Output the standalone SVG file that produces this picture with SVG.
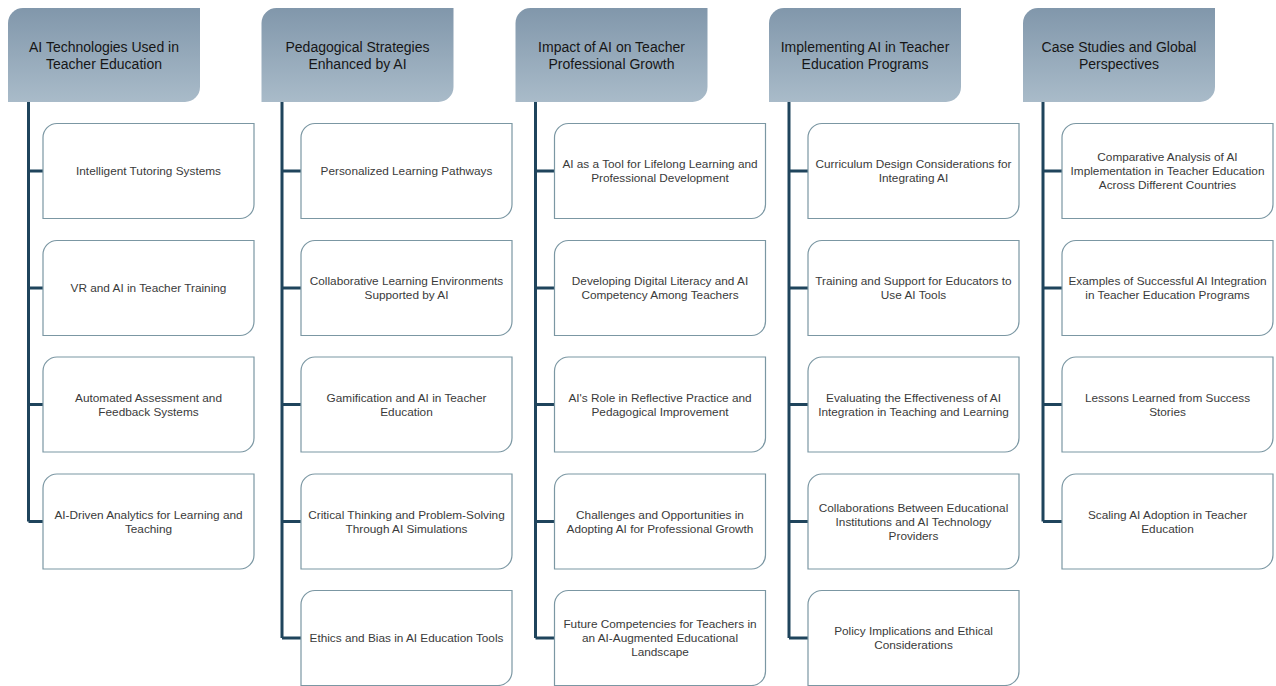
<svg xmlns="http://www.w3.org/2000/svg" width="1276" height="686" viewBox="0 0 1276 686">
<style>
.hdr{fill:url(#hg);}
.box{fill:#ffffff;stroke:#7b97a3;stroke-width:1.2;}
.ht{font-family:"Liberation Sans",Arial,sans-serif;font-size:14px;fill:#161616;text-anchor:middle;}
.bt{font-family:"Liberation Sans",Arial,sans-serif;font-size:11.8px;fill:#3a3a3a;text-anchor:middle;}
.con{stroke:#1f445c;stroke-width:3;fill:none;}
</style>
<defs>
<linearGradient id="hg" x1="0" y1="0" x2="0" y2="1">
<stop offset="0" stop-color="#8197ab"/>
<stop offset="1" stop-color="#a9bbc9"/>
</linearGradient>
</defs>
<rect width="1276" height="686" fill="#ffffff"/>
<g id="connectors">
<path class="con" d="M28.5,102 V521.5 M28.5,171 H43 M28.5,288 H43 M28.5,404.5 H43 M28.5,521.5 H43"/>
<path class="con" d="M282,102 V638 M282,171 H301 M282,288 H301 M282,404.5 H301 M282,521.5 H301 M282,638 H301"/>
<path class="con" d="M535.5,102 V638 M535.5,171 H554.5 M535.5,288 H554.5 M535.5,404.5 H554.5 M535.5,521.5 H554.5 M535.5,638 H554.5"/>
<path class="con" d="M789,102 V638 M789,171 H808 M789,288 H808 M789,404.5 H808 M789,521.5 H808 M789,638 H808"/>
<path class="con" d="M1043,102 V521.5 M1043,171 H1062 M1043,288 H1062 M1043,404.5 H1062 M1043,521.5 H1062"/>
</g>
<g id="h1"><path class="hdr" d="M23,8 H200 V87 A15 15 0 0 1 185,102 H8 V23 A15 15 0 0 1 23,8 Z"/><text class="ht" x="104" y="51.5">AI Technologies Used in</text><text class="ht" x="104" y="68.5">Teacher Education</text></g>
<g id="h2"><path class="hdr" d="M276.5,8 H453.5 V87 A15 15 0 0 1 438.5,102 H261.5 V23 A15 15 0 0 1 276.5,8 Z"/><text class="ht" x="357.5" y="51.5">Pedagogical Strategies</text><text class="ht" x="357.5" y="68.5">Enhanced by AI</text></g>
<g id="h3"><path class="hdr" d="M530.5,8 H707.5 V87 A15 15 0 0 1 692.5,102 H515.5 V23 A15 15 0 0 1 530.5,8 Z"/><text class="ht" x="611.5" y="51.5">Impact of AI on Teacher</text><text class="ht" x="611.5" y="68.5">Professional Growth</text></g>
<g id="h4"><path class="hdr" d="M784,8 H961 V87 A15 15 0 0 1 946,102 H769 V23 A15 15 0 0 1 784,8 Z"/><text class="ht" x="865" y="51.5">Implementing AI in Teacher</text><text class="ht" x="865" y="68.5">Education Programs</text></g>
<g id="h5"><path class="hdr" d="M1038,8 H1215 V87 A15 15 0 0 1 1200,102 H1023 V23 A15 15 0 0 1 1038,8 Z"/><text class="ht" x="1119" y="51.5">Case Studies and Global</text><text class="ht" x="1119" y="68.5">Perspectives</text></g>

<g id="c1n1"><path class="box" d="M57,123.5 H254 V204.5 A14 14 0 0 1 240,218.5 H43 V137.5 A14 14 0 0 1 57,123.5 Z"/><text class="bt" x="148.5" y="175.2">Intelligent Tutoring Systems</text></g>
<g id="c1n2"><path class="box" d="M57,240.5 H254 V321.5 A14 14 0 0 1 240,335.5 H43 V254.5 A14 14 0 0 1 57,240.5 Z"/><text class="bt" x="148.5" y="292.2">VR and AI in Teacher Training</text></g>
<g id="c1n3"><path class="box" d="M57,357 H254 V438 A14 14 0 0 1 240,452 H43 V371 A14 14 0 0 1 57,357 Z"/><text class="bt" x="148.5" y="401.7">Automated Assessment and</text><text class="bt" x="148.5" y="415.7">Feedback Systems</text></g>
<g id="c1n4"><path class="box" d="M57,474 H254 V555 A14 14 0 0 1 240,569 H43 V488 A14 14 0 0 1 57,474 Z"/><text class="bt" x="148.5" y="518.7">AI-Driven Analytics for Learning and</text><text class="bt" x="148.5" y="532.7">Teaching</text></g>

<g id="c2n1"><path class="box" d="M315,123.5 H512 V204.5 A14 14 0 0 1 498,218.5 H301 V137.5 A14 14 0 0 1 315,123.5 Z"/><text class="bt" x="406.5" y="175.2">Personalized Learning Pathways</text></g>
<g id="c2n2"><path class="box" d="M315,240.5 H512 V321.5 A14 14 0 0 1 498,335.5 H301 V254.5 A14 14 0 0 1 315,240.5 Z"/><text class="bt" x="406.5" y="285.2">Collaborative Learning Environments</text><text class="bt" x="406.5" y="299.2">Supported by AI</text></g>
<g id="c2n3"><path class="box" d="M315,357 H512 V438 A14 14 0 0 1 498,452 H301 V371 A14 14 0 0 1 315,357 Z"/><text class="bt" x="406.5" y="401.7">Gamification and AI in Teacher</text><text class="bt" x="406.5" y="415.7">Education</text></g>
<g id="c2n4"><path class="box" d="M315,474 H512 V555 A14 14 0 0 1 498,569 H301 V488 A14 14 0 0 1 315,474 Z"/><text class="bt" x="406.5" y="518.7">Critical Thinking and Problem-Solving</text><text class="bt" x="406.5" y="532.7">Through AI Simulations</text></g>
<g id="c2n5"><path class="box" d="M315,590.5 H512 V671.5 A14 14 0 0 1 498,685.5 H301 V604.5 A14 14 0 0 1 315,590.5 Z"/><text class="bt" x="406.5" y="642.2">Ethics and Bias in AI Education Tools</text></g>

<g id="c3n1"><path class="box" d="M568.5,123.5 H765.5 V204.5 A14 14 0 0 1 751.5,218.5 H554.5 V137.5 A14 14 0 0 1 568.5,123.5 Z"/><text class="bt" x="660" y="168.2">AI as a Tool for Lifelong Learning and</text><text class="bt" x="660" y="182.2">Professional Development</text></g>
<g id="c3n2"><path class="box" d="M568.5,240.5 H765.5 V321.5 A14 14 0 0 1 751.5,335.5 H554.5 V254.5 A14 14 0 0 1 568.5,240.5 Z"/><text class="bt" x="660" y="285.2">Developing Digital Literacy and AI</text><text class="bt" x="660" y="299.2">Competency Among Teachers</text></g>
<g id="c3n3"><path class="box" d="M568.5,357 H765.5 V438 A14 14 0 0 1 751.5,452 H554.5 V371 A14 14 0 0 1 568.5,357 Z"/><text class="bt" x="660" y="401.7">AI's Role in Reflective Practice and</text><text class="bt" x="660" y="415.7">Pedagogical Improvement</text></g>
<g id="c3n4"><path class="box" d="M568.5,474 H765.5 V555 A14 14 0 0 1 751.5,569 H554.5 V488 A14 14 0 0 1 568.5,474 Z"/><text class="bt" x="660" y="518.7">Challenges and Opportunities in</text><text class="bt" x="660" y="532.7">Adopting AI for Professional Growth</text></g>
<g id="c3n5"><path class="box" d="M568.5,590.5 H765.5 V671.5 A14 14 0 0 1 751.5,685.5 H554.5 V604.5 A14 14 0 0 1 568.5,590.5 Z"/><text class="bt" x="660" y="628.2">Future Competencies for Teachers in</text><text class="bt" x="660" y="642.2">an AI-Augmented Educational</text><text class="bt" x="660" y="656.2">Landscape</text></g>

<g id="c4n1"><path class="box" d="M822,123.5 H1019 V204.5 A14 14 0 0 1 1005,218.5 H808 V137.5 A14 14 0 0 1 822,123.5 Z"/><text class="bt" x="913.5" y="168.2">Curriculum Design Considerations for</text><text class="bt" x="913.5" y="182.2">Integrating AI</text></g>
<g id="c4n2"><path class="box" d="M822,240.5 H1019 V321.5 A14 14 0 0 1 1005,335.5 H808 V254.5 A14 14 0 0 1 822,240.5 Z"/><text class="bt" x="913.5" y="285.2">Training and Support for Educators to</text><text class="bt" x="913.5" y="299.2">Use AI Tools</text></g>
<g id="c4n3"><path class="box" d="M822,357 H1019 V438 A14 14 0 0 1 1005,452 H808 V371 A14 14 0 0 1 822,357 Z"/><text class="bt" x="913.5" y="401.7">Evaluating the Effectiveness of AI</text><text class="bt" x="913.5" y="415.7">Integration in Teaching and Learning</text></g>
<g id="c4n4"><path class="box" d="M822,474 H1019 V555 A14 14 0 0 1 1005,569 H808 V488 A14 14 0 0 1 822,474 Z"/><text class="bt" x="913.5" y="511.7">Collaborations Between Educational</text><text class="bt" x="913.5" y="525.7">Institutions and AI Technology</text><text class="bt" x="913.5" y="539.7">Providers</text></g>
<g id="c4n5"><path class="box" d="M822,590.5 H1019 V671.5 A14 14 0 0 1 1005,685.5 H808 V604.5 A14 14 0 0 1 822,590.5 Z"/><text class="bt" x="913.5" y="635.2">Policy Implications and Ethical</text><text class="bt" x="913.5" y="649.2">Considerations</text></g>

<g id="c5n1"><path class="box" d="M1076,123.5 H1273 V204.5 A14 14 0 0 1 1259,218.5 H1062 V137.5 A14 14 0 0 1 1076,123.5 Z"/><text class="bt" x="1167.5" y="161.2">Comparative Analysis of AI</text><text class="bt" x="1167.5" y="175.2">Implementation in Teacher Education</text><text class="bt" x="1167.5" y="189.2">Across Different Countries</text></g>
<g id="c5n2"><path class="box" d="M1076,240.5 H1273 V321.5 A14 14 0 0 1 1259,335.5 H1062 V254.5 A14 14 0 0 1 1076,240.5 Z"/><text class="bt" x="1167.5" y="285.2">Examples of Successful AI Integration</text><text class="bt" x="1167.5" y="299.2">in Teacher Education Programs</text></g>
<g id="c5n3"><path class="box" d="M1076,357 H1273 V438 A14 14 0 0 1 1259,452 H1062 V371 A14 14 0 0 1 1076,357 Z"/><text class="bt" x="1167.5" y="401.7">Lessons Learned from Success</text><text class="bt" x="1167.5" y="415.7">Stories</text></g>
<g id="c5n4"><path class="box" d="M1076,474 H1273 V555 A14 14 0 0 1 1259,569 H1062 V488 A14 14 0 0 1 1076,474 Z"/><text class="bt" x="1167.5" y="518.7">Scaling AI Adoption in Teacher</text><text class="bt" x="1167.5" y="532.7">Education</text></g>
</svg>
